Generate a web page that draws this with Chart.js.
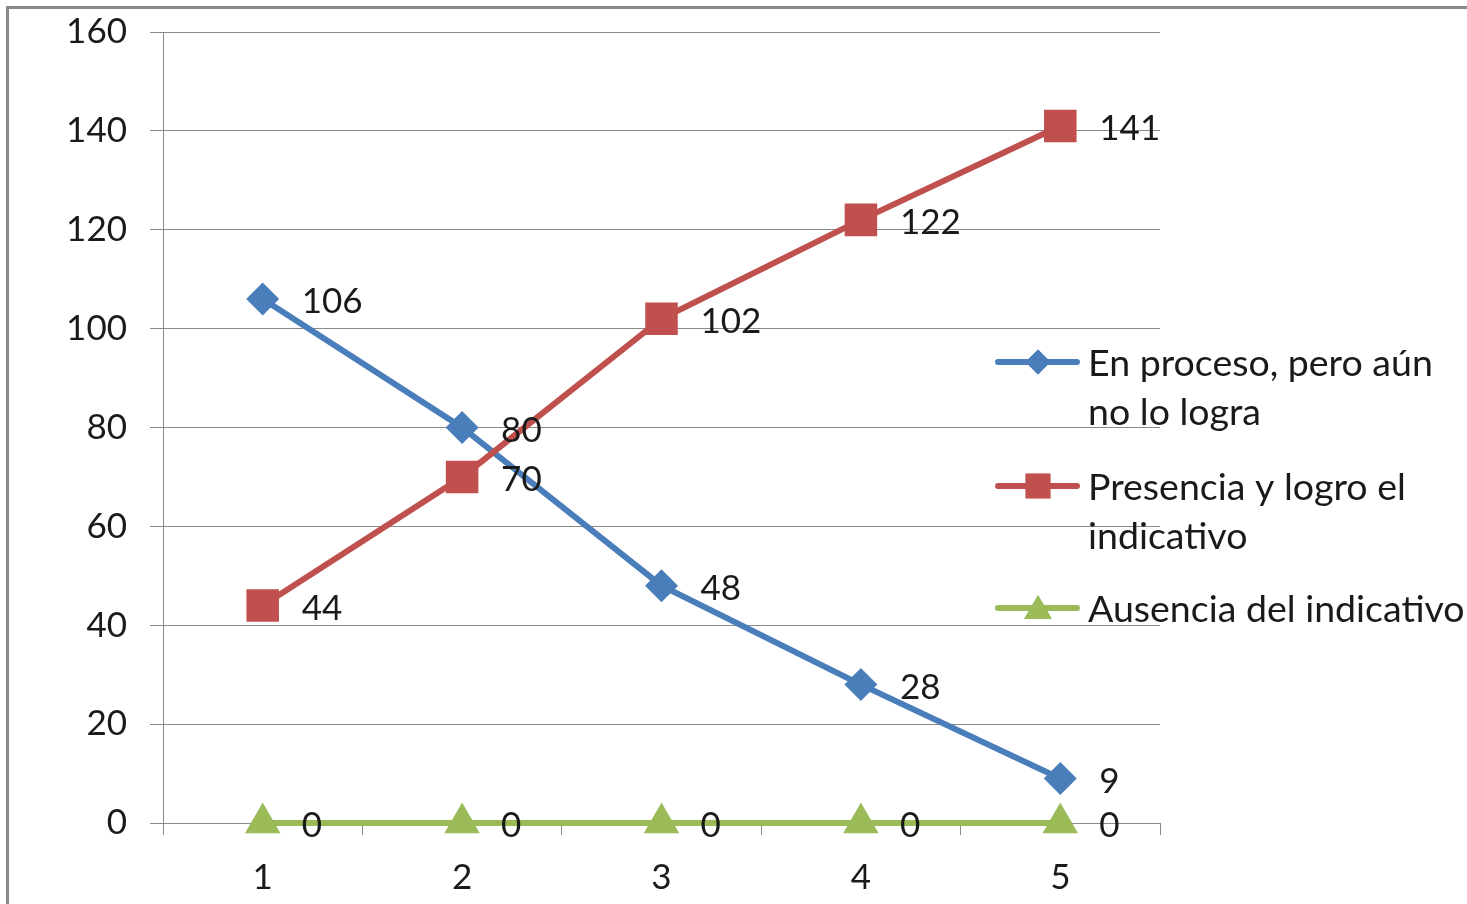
<!DOCTYPE html>
<html>
<head>
<meta charset="utf-8">
<script src="https://cdn.jsdelivr.net/npm/chart.js@4.4.1/dist/chart.umd.min.js"></script>
<style>
  html, body { margin: 0; padding: 0; background: #ffffff; }
  #wrap { position: relative; width: 1467px; height: 904px; overflow: hidden; background: #ffffff; }
  #frame { position: absolute; left: 6px; top: 6px; right: -10px; bottom: -10px;
           border-top: 3px solid #8a8a8a; border-left: 3px solid #8a8a8a; pointer-events: none; }
  canvas { position: absolute; left: 0; top: 0; }
</style>
</head>
<body>
<div id="wrap">
  <canvas id="chart" width="1467" height="904"></canvas>
  <div id="frame"></div>
</div>
<script>
// Categories and series values
const categories = ['1', '2', '3', '4', '5'];
const enProceso = [106, 80, 48, 28, 9];
const presencia = [44, 70, 102, 122, 141];
const ausencia = [0, 0, 0, 0, 0];

// Legend text (wrapped into lines)
const legendLines = [
  ['En proceso, pero aún', 'no lo logra'],
  ['Presencia y logro el', 'indicativo'],
  ['Ausencia del indicativo']
];

const FONT = '"Lato", "Open Sans", sans-serif';
const FONT_SIZE = 35;
const LEGEND_FONT_SIZE = 37.5;
const TEXT_COLOR = '#1a1a1a';
const GRID = '#8a8a8a';

const BLUE = '#4a7ebb';
const RED = '#c0504d';
const GREEN = '#9bbb59';

// Value labels drawn to the right of each point
const valueLabels = {
  id: 'valueLabels',
  afterDatasetsDraw(chart) {
    const ctx = chart.ctx;
    ctx.save();
    ctx.font = FONT_SIZE + 'px ' + FONT;
    ctx.fillStyle = TEXT_COLOR;
    ctx.textAlign = 'left';
    ctx.textBaseline = 'middle';
    chart.data.datasets.forEach((ds, i) => {
      const meta = chart.getDatasetMeta(i);
      meta.data.forEach((pt, j) => {
        ctx.fillText(String(ds.data[j]), pt.x + 39, pt.y + 3);
      });
    });
    ctx.restore();
  }
};

// Legend drawn beside the plot, with the series line and marker
const sideLegend = {
  id: 'sideLegend',
  afterDraw(chart) {
    const ctx = chart.ctx;
    const rows = [
      { y: 362, lines: legendLines[0] },
      { y: 486, lines: legendLines[1] },
      { y: 608, lines: legendLines[2] }
    ];
    const markerR = [12.5, 17.5, 16];
    ctx.save();
    rows.forEach((row, i) => {
      const ds = chart.data.datasets[i];
      ctx.strokeStyle = ds.borderColor;
      ctx.lineWidth = 6;
      ctx.lineCap = 'round';
      ctx.beginPath();
      ctx.moveTo(998, row.y);
      ctx.lineTo(1077, row.y);
      ctx.stroke();
      ctx.fillStyle = ds.backgroundColor;
      const dy = ds.pointStyle === 'triangle' ? 3 : 0;
      Chart.helpers.drawPoint(ctx, { pointStyle: ds.pointStyle, radius: markerR[i], borderWidth: 0 }, 1038, row.y + dy);
      ctx.fill();
      ctx.font = LEGEND_FONT_SIZE + 'px ' + FONT;
      ctx.fillStyle = TEXT_COLOR;
      ctx.textAlign = 'left';
      ctx.textBaseline = 'middle';
      row.lines.forEach((t, k) => ctx.fillText(t, 1088, row.y + 2 + k * 49));
    });
    ctx.restore();
  }
};

new Chart(document.getElementById('chart'), {
  type: 'line',
  data: {
    labels: categories,
    datasets: [
      {
        label: legendLines[0].join(' '),
        data: enProceso,
        borderColor: BLUE, backgroundColor: BLUE,
        borderWidth: 6, pointStyle: 'rectRot', pointRadius: 16.5,
        pointBorderWidth: 0, tension: 0, order: 3, clip: false
      },
      {
        label: legendLines[1].join(' '),
        data: presencia,
        borderColor: RED, backgroundColor: RED,
        borderWidth: 6, pointStyle: 'rect', pointRadius: 23,
        pointBorderWidth: 0, tension: 0, order: 2, clip: false
      },
      {
        label: legendLines[2][0],
        data: ausencia,
        borderColor: GREEN, backgroundColor: GREEN,
        borderWidth: 6, pointStyle: 'triangle', pointRadius: 20.5,
        pointBorderWidth: 0, tension: 0, order: 1, clip: false
      }
    ]
  },
  options: {
    responsive: false,
    animation: false,
    events: [],
    layout: { padding: { left: 0, top: 32, right: 307, bottom: 0 } },
    plugins: { legend: { display: false }, tooltip: { enabled: false } },
    scales: {
      x: {
        offset: true,
        grid: { offset: true, drawOnChartArea: false, drawTicks: true, tickLength: 12, color: GRID, lineWidth: 1 },
        border: { display: true, color: GRID, width: 1 },
        ticks: { color: TEXT_COLOR, font: { family: FONT, size: FONT_SIZE }, padding: 22, maxRotation: 0 },
        afterFit(scale) { scale.height = 81; scale.paddingLeft = 0; scale.paddingRight = 0; }
      },
      y: {
        min: 0, max: 160,
        ticks: { stepSize: 20, color: TEXT_COLOR, font: { family: FONT, size: FONT_SIZE }, padding: 23 },
        grid: { color: GRID, lineWidth: 1, tickLength: 13, drawTicks: true },
        border: { display: true, color: GRID, width: 1 },
        afterFit(scale) { scale.width = 163; scale.paddingTop = 0; scale.paddingBottom = 0; }
      }
    }
  },
  plugins: [valueLabels, sideLegend]
});
</script>
</body>
</html>
